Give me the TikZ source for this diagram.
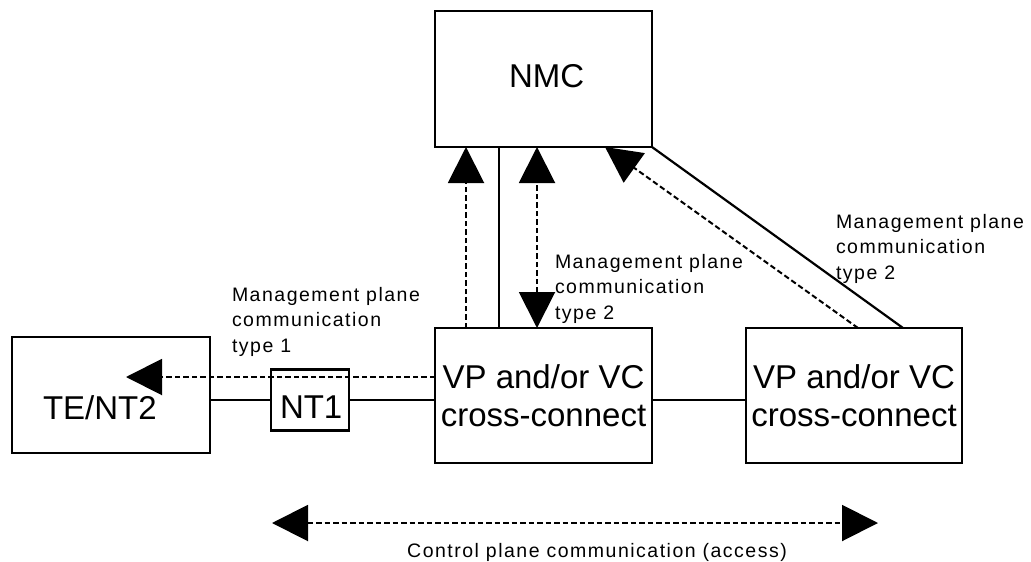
\documentclass[tikz,border=0pt]{standalone}
\usepackage{fontspec}
\setmainfont{Liberation Sans}
\newfontfamily\notefamily[LetterSpace=7.7]{Liberation Sans}
\newcommand\notefont{\notefamily\fontsize{19.5}{25.5}\selectfont}
\newcommand\unitfont{\fontsize{33}{38}\selectfont}
\usetikzlibrary{arrows.meta}

\tikzset{
  unit/.style={draw, line width=2.2pt, inner sep=0pt, outer sep=0pt,
    font=\unitfont, align=center},
  caption/.style={inner sep=0pt, outer sep=0pt, font=\unitfont},
  note/.style={inner sep=0pt, outer sep=0pt, font=\notefont, align=left,
    anchor=north west},
  wire/.style={line width=2.2pt},
  dashwire/.style={line width=2pt, dash pattern=on 5.5pt off 3pt},
  tri/.tip={Triangle[length=36pt, width=36pt]}
}

\begin{document}
\begin{tikzpicture}[x=1pt, y=-1pt]
  % page frame
  \fill[white] (0,0) rectangle (1031,562);
  \useasboundingbox (0,0) rectangle (1031,562);

  % equipment boxes
  \node[unit, minimum width=217pt, minimum height=136pt] (nmc) at (543.5,79) {};
  \node[unit, minimum width=198pt, minimum height=116pt] (te)  at (111,395) {};
  \node[unit, minimum width=78pt,  minimum height=61pt]  (nt1) at (310,400) {};
  \node[unit, minimum width=217pt, minimum height=135pt] (vp1) at (543.5,395.5)
    {VP and/or VC\\cross-connect};
  \node[unit, minimum width=216pt, minimum height=135pt] (vp2) at (854,395.5)
    {VP and/or VC\\cross-connect};

  % box captions
  \node[caption, anchor=base west] (nmct) at (509,87) {NMC};
  \node[caption, anchor=base west] (tet)  at (43,419) {TE/NT2};
  \node[caption, anchor=base west] (nt1t) at (280,418) {NT1};

  % reference points for the connectors
  \coordinate (t1tip) at (126,377);
  \coordinate (ux1) at (466,0);
  \coordinate (ux2) at (499,0);
  \coordinate (ux3) at (537,0);
  \coordinate (dx0) at (605,0);
  \coordinate (dx1) at (858,0);
  \coordinate (dx2) at (903,0);
  \coordinate (cl) at (272,523);
  \coordinate (cr) at (878,523);

  % user plane links
  \draw[wire] (te.east |- nt1.west) -- (nt1.west);
  \draw[wire] (nt1.east) -- (vp1.west |- nt1.east);
  \draw[wire] (vp1.east |- nt1.east) -- (vp2.west |- nt1.east);

  % management plane type 1
  \draw[dashwire, -{tri}] (vp1.west |- t1tip) -- (t1tip);

  % management links between NMC and the first cross-connect
  \draw[dashwire, -{tri}] (ux1 |- vp1.north) -- (ux1 |- nmc.south);
  \draw[wire] (ux2 |- vp1.north) -- (ux2 |- nmc.south);
  \draw[dashwire, {tri}-{tri}] (ux3 |- vp1.north) -- (ux3 |- nmc.south);

  % management links between NMC and the second cross-connect
  \draw[wire] (nmc.south east) -- (dx2 |- vp2.north);
  \draw[dashwire, -{tri}] (dx1 |- vp2.north) -- (dx0 |- nmc.south);

  % control plane
  \draw[dashwire, {tri}-{tri}] (cl) -- (cr);

  % annotations
  \node[note] (m1) at (232,287) {Management plane\\communication\\type 1};
  \node[note] (m2) at (555,254) {Management plane\\communication\\type 2};
  \node[note] (m3) at (836,214) {Management plane\\communication\\type 2};
  \node[inner sep=0pt, font=\notefont, anchor=base west] (cp) at (407,557)
    {Control plane communication (access)};
\end{tikzpicture}
\end{document}
